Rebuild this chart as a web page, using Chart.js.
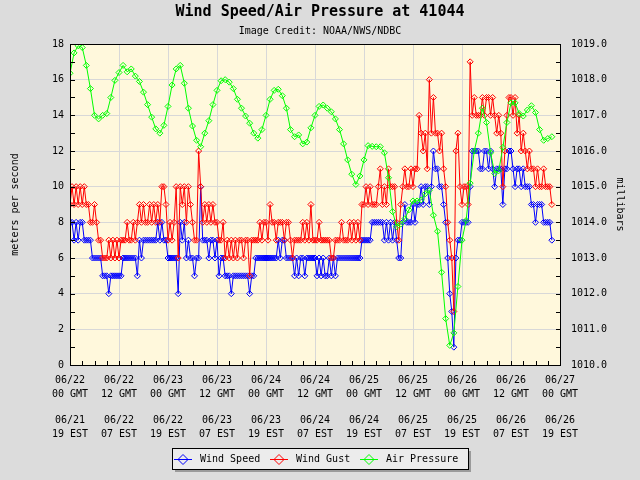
<!DOCTYPE html>
<html>
<head>
<meta charset="utf-8">
<script src="https://cdn.jsdelivr.net/npm/chart.js@4/dist/chart.umd.min.js"></script>
<style>
  html, body { margin: 0; padding: 0; background: #dcdcdc; }
  canvas { display: block; }
</style>
</head>
<body>
<canvas id="c" width="640" height="480"></canvas>
<script>
// ---- Data ----
// Series start 06/22 00 GMT. Wind every 30 min, pressure every hour.
const windStepHours = 0.5;
const pressureStepHours = 1;

const windSpeed = [
  8,8,7,8,7,8,8,7,7,7,
  7,6,6,6,6,6,5,5,5,4,
  5,5,5,5,5,5,6,6,6,6,
  6,6,6,5,7,6,7,7,7,7,
  7,7,7,8,7,8,7,7,6,6,
  6,6,6,4,8,7,8,6,7,6,
  6,5,6,6,10,7,7,7,6,7,
  7,6,7,5,6,6,5,5,5,4,
  5,5,5,5,5,5,5,5,4,5,
  5,6,6,6,6,6,6,6,6,6,
  6,6,7,6,7,7,6,6,6,6,
  5,6,5,6,6,5,6,6,6,6,
  6,5,6,5,6,5,5,6,5,6,
  5,6,6,6,6,6,6,6,6,6,
  6,6,6,7,7,7,7,7,8,8,
  8,8,8,8,7,8,7,8,7,8,
  7,6,6,8,9,8,8,8,9,8,
  9,9,10,9,10,10,9,10,12,11,
  11,10,10,9,8,6,4,3,1,6,
  7,7,8,8,8,8,10,12,12,12,
  12,11,11,12,12,11,12,11,10,11,
  11,11,9,11,11,12,12,11,10,11,
  11,10,11,10,10,10,9,9,8,9,
  9,9,8,8,8,8,7
];

const windGust = [
  9,10,9,10,9,10,9,10,9,9,
  8,8,9,8,7,7,6,6,6,7,
  6,7,6,7,6,7,7,7,8,7,
  7,8,7,8,9,8,9,8,8,9,
  8,9,8,9,8,10,10,9,7,8,
  7,8,10,6,10,9,10,8,10,9,
  8,7,7,12,10,8,9,8,9,8,
  9,8,8,7,7,8,6,7,6,7,
  6,7,6,7,7,6,7,7,5,7,
  7,7,7,8,7,8,8,7,9,8,
  8,7,8,8,8,7,8,8,7,6,
  7,7,7,7,8,7,8,7,9,7,
  7,7,8,7,7,7,7,7,6,6,
  7,7,7,8,7,7,7,8,7,8,
  7,8,7,9,9,10,9,10,9,9,
  9,10,11,9,10,9,11,10,10,10,
  8,7,9,10,11,10,10,11,10,11,
  11,14,13,12,13,11,16,13,15,13,
  13,12,13,11,10,8,7,6,3,12,
  13,10,9,10,10,9,17,14,15,14,
  14,14,15,14,15,15,14,15,14,13,
  14,13,10,12,14,15,15,14,15,13,
  14,12,13,12,11,12,11,11,10,11,
  10,10,11,10,10,10,9
];

const airPressure = [
  1018.18,1018.75,1018.95,1018.9,1018.4,1017.75,1017.0,1016.9,1017.0,1017.05,
  1017.5,1017.98,1018.2,1018.4,1018.22,1018.3,1018.1,1017.95,1017.65,1017.3,
  1016.95,1016.62,1016.5,1016.72,1017.25,1017.85,1018.3,1018.4,1017.9,1017.2,
  1016.7,1016.3,1016.12,1016.5,1016.85,1017.3,1017.7,1017.97,1018.0,1017.93,
  1017.75,1017.45,1017.2,1016.98,1016.78,1016.5,1016.36,1016.6,1017.0,1017.45,
  1017.7,1017.73,1017.55,1017.2,1016.6,1016.4,1016.45,1016.2,1016.25,1016.65,
  1017.0,1017.25,1017.29,1017.2,1017.1,1016.9,1016.6,1016.2,1015.75,1015.35,
  1015.06,1015.3,1015.75,1016.15,1016.13,1016.12,1016.12,1015.95,1015.25,1014.3,
  1013.88,1013.95,1014.1,1014.35,1014.6,1014.6,1014.63,1014.8,1014.9,1014.2,
  1013.75,1012.6,1011.3,1010.55,1010.9,1012.2,1013.5,1014.05,1015.1,1016.0,
  1016.5,1017.2,1016.8,1015.95,1015.37,1015.45,1016.1,1016.8,1017.35,1017.35,
  1017.05,1016.98,1017.15,1017.27,1017.08,1016.6,1016.3,1016.35,1016.4
];

// Tick labels (every 12 hours)
const tickDatesGMT = ['06/22','06/22','06/23','06/23','06/24','06/24','06/25','06/25','06/26','06/26','06/27'];
const tickHoursGMT = ['00 GMT','12 GMT','00 GMT','12 GMT','00 GMT','12 GMT','00 GMT','12 GMT','00 GMT','12 GMT','00 GMT'];
const tickDatesEST = ['06/21','06/22','06/22','06/23','06/23','06/24','06/24','06/25','06/25','06/26','06/26'];
const tickHoursEST = ['19 EST','07 EST','19 EST','07 EST','19 EST','07 EST','19 EST','07 EST','19 EST','07 EST','19 EST'];

const seriesNames = ['Wind Speed', 'Wind Gust', 'Air Pressure'];
const seriesColors = ['#0000ff', '#ff0000', '#00ff00'];

// ---- Chart ----
const MONO = "'DejaVu Sans Mono', 'Liberation Mono', monospace";

function toPoints(arr, step) {
  return arr.map((v, i) => ({ x: i * step, y: v }));
}

function lineDataset(idx, data, axis, order) {
  return {
    label: seriesNames[idx],
    data: data,
    yAxisID: axis,
    borderColor: seriesColors[idx],
    backgroundColor: seriesColors[idx],
    borderWidth: 1,
    pointStyle: 'rectRot',
    pointRadius: 3,
    pointBorderWidth: 1,
    pointBorderColor: seriesColors[idx],
    pointBackgroundColor: 'rgba(0,0,0,0)',
    tension: 0,
    order: order
  };
}

const decor = {
  id: 'decor',
  beforeDraw(chart) {
    const { ctx, chartArea: a } = chart;
    ctx.save();
    ctx.fillStyle = '#dcdcdc';
    ctx.fillRect(0, 0, chart.width, chart.height);
    ctx.fillStyle = '#fff8dc';
    ctx.fillRect(a.left, a.top, a.right - a.left, a.bottom - a.top);
    ctx.restore();
  },
  afterDraw(chart) {
    const { ctx, chartArea: a, scales } = chart;
    ctx.save();
    // frame
    ctx.strokeStyle = '#000';
    ctx.lineWidth = 1;
    ctx.strokeRect(a.left + 0.5, a.top + 0.5, a.right - a.left, a.bottom - a.top);
    // inward minor ticks
    ctx.beginPath();
    for (let v = 0; v <= 18; v += 1) {
      const y = Math.round(scales.y.getPixelForValue(v)) + 0.5;
      ctx.moveTo(a.left, y); ctx.lineTo(a.left + 5, y);
    }
    for (let p = 1010; p <= 1019; p += 0.5) {
      const y = Math.round(scales.yP.getPixelForValue(p)) + 0.5;
      ctx.moveTo(a.right - 4, y); ctx.lineTo(a.right + 1, y);
    }
    for (let h = 0; h <= 120; h += 3) {
      const x = Math.round(scales.x.getPixelForValue(h)) + 0.5;
      ctx.moveTo(x, a.bottom - 4); ctx.lineTo(x, a.bottom + 1);
    }
    ctx.stroke();

    // legend box
    const bx = 172, by = 448, bw = 296, bh = 21;
    ctx.fillStyle = '#9a9a9a';
    ctx.fillRect(bx + 3, by + 3, bw, bh);
    ctx.fillStyle = '#ececec';
    ctx.fillRect(bx, by, bw, bh);
    ctx.strokeStyle = '#000';
    ctx.strokeRect(bx + 0.5, by + 0.5, bw, bh);
    const cy = by + 11.5;
    const items = [
      { lx: 174, tx: 200 },
      { lx: 270, tx: 296 },
      { lx: 360, tx: 386 }
    ];
    ctx.font = '10px ' + MONO;
    ctx.textBaseline = 'middle';
    ctx.textAlign = 'left';
    items.forEach((it, i) => {
      ctx.strokeStyle = seriesColors[i];
      ctx.lineWidth = 1;
      ctx.beginPath();
      ctx.moveTo(it.lx, cy); ctx.lineTo(it.lx + 18, cy);
      const mx = it.lx + 9;
      ctx.moveTo(mx, cy - 5); ctx.lineTo(mx + 5, cy); ctx.lineTo(mx, cy + 5); ctx.lineTo(mx - 5, cy); ctx.closePath();
      ctx.stroke();
      ctx.fillStyle = '#000';
      ctx.fillText(seriesNames[i], it.tx, cy);
    });
    ctx.restore();
  }
};

new Chart(document.getElementById('c'), {
  type: 'line',
  data: {
    datasets: [
      lineDataset(0, toPoints(windSpeed, windStepHours), 'y', 3),
      lineDataset(1, toPoints(windGust, windStepHours), 'y', 2),
      lineDataset(2, toPoints(airPressure, pressureStepHours), 'yP', 1)
    ]
  },
  options: {
    responsive: false,
    animation: false,
    layout: { padding: 0 },
    plugins: {
      legend: { display: false },
      tooltip: { enabled: false },
      title: {
        display: true,
        text: 'Wind Speed/Air Pressure at 41044',
        color: '#000',
        font: { family: MONO, size: 15, weight: 'bold' },
        padding: { top: 3, bottom: 0 }
      },
      subtitle: {
        display: true,
        text: 'Image Credit: NOAA/NWS/NDBC',
        color: '#000',
        font: { family: MONO, size: 10 },
        padding: { top: 4, bottom: 7 }
      }
    },
    scales: {
      x: {
        type: 'linear',
        min: 0,
        max: 120,
        position: 'bottom',
        afterFit(s) { s.height = 115; },
        border: { display: false },
        grid: { color: '#d8d8d8', drawTicks: false, lineWidth: 1 },
        ticks: {
          stepSize: 12,
          autoSkip: false,
          maxRotation: 0,
          minRotation: 0,
          padding: 9,
          color: '#000',
          font: { family: MONO, size: 10, lineHeight: 1.34 },
          callback: (v, i) => [tickDatesGMT[i], tickHoursGMT[i], '', tickDatesEST[i], tickHoursEST[i]]
        }
      },
      y: {
        position: 'left',
        min: 0,
        max: 18,
        afterFit(s) { s.width = 70; },
        border: { display: false },
        grid: { color: '#d8d8d8', drawTicks: false, lineWidth: 1 },
        ticks: { stepSize: 2, padding: 6, color: '#000', font: { family: MONO, size: 10 } },
        title: {
          display: true,
          text: 'meters per second',
          color: '#000',
          font: { family: MONO, size: 10 },
          padding: { top: 9, bottom: 0 }
        }
      },
      yP: {
        position: 'right',
        min: 1010,
        max: 1019,
        afterFit(s) { s.width = 80; },
        border: { display: false },
        grid: { drawOnChartArea: false, drawTicks: false },
        ticks: {
          stepSize: 1,
          padding: 11,
          color: '#000',
          font: { family: MONO, size: 10 },
          callback: (v) => Number(v).toFixed(1)
        },
        title: {
          display: true,
          text: 'millibars',
          color: '#000',
          font: { family: MONO, size: 10 },
          padding: { top: 14, bottom: 0 }
        }
      }
    }
  },
  plugins: [decor]
});
</script>
</body>
</html>
